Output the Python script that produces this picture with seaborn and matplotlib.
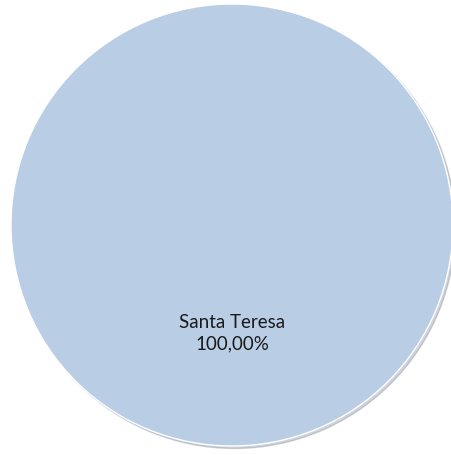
import matplotlib
matplotlib.use('Agg')
import matplotlib.pyplot as plt
import seaborn as sns

# Datos del gráfico
categorias = ['Santa Teresa']
valores = [100.0]
colores = ['#B9CDE5']

sns.set_theme(style='white')
plt.rcParams['font.family'] = ['Lato', 'DejaVu Sans']

fig = plt.figure(figsize=(4.51, 4.56), dpi=100)
ax = fig.add_axes([11 / 451, 9 / 456, 442 / 451, 442 / 456])


def etiqueta(p):
    return f"{categorias[0]}\n{p:.2f}%".replace('.', ',')


wedges, textos, autotextos = ax.pie(
    valores, colors=sns.color_palette(colores), startangle=90, counterclock=False,
    autopct=etiqueta, pctdistance=0.485,
    shadow={'ox': 0.008, 'oy': -0.008, 'shade': 0.35, 'alpha': 0.35},
    textprops={'fontsize': 13.5, 'color': '#1a1a1a', 'linespacing': 1.25},
)
ax.set_xlim(-1, 1)
ax.set_ylim(-1, 1)
ax.axis('off')

plt.savefig('out.png', dpi=100)
